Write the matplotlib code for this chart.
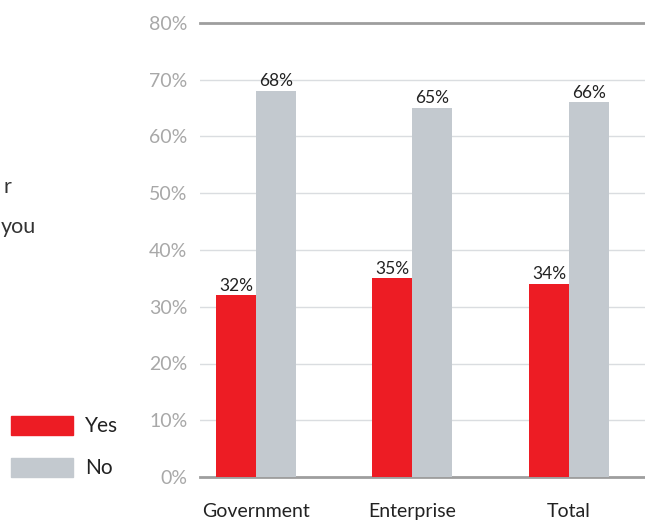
import matplotlib
matplotlib.use("Agg")
import matplotlib.pyplot as plt
import numpy as np
from matplotlib.patches import Rectangle

categories = ["Government", "Enterprise", "Total"]
yes_vals = [32, 35, 34]
no_vals = [68, 65, 66]
yticks = [0, 10, 20, 30, 40, 50, 60, 70, 80]
ytick_labels = ["0%", "10%", "20%", "30%", "40%", "50%", "60%", "70%", "80%"]

RED = "#ED1C24"
GRAY = "#C3C9CF"
W, H = 645, 523
plt.rcParams['font.family'] = ['Lato', 'DejaVu Sans']

fig = plt.figure(figsize=(W / 100, H / 100), dpi=100)
ax_left, ax_right, ax_bottom, ax_top = 200, 645, 477, 23
ax = fig.add_axes([ax_left / W, 1 - ax_bottom / H, (ax_right - ax_left) / W, (ax_bottom - ax_top) / H])

x = np.arange(len(categories))
bw = 0.2556
ax.bar(x - bw / 2, yes_vals, bw, color=RED, zorder=3)
ax.bar(x + bw / 2, no_vals, bw, color=GRAY, zorder=3)

for xi, v in zip(x - bw / 2, yes_vals):
    ax.text(xi, v + 0.3, f"{v}%", ha="center", va="bottom", fontsize=12.5, color="#222222", zorder=4)
for xi, v in zip(x + bw / 2, no_vals):
    ax.text(xi, v + 0.3, f"{v}%", ha="center", va="bottom", fontsize=12.5, color="#222222", zorder=4)

ax.set_xlim(-0.358, 2.486)
ax.set_ylim(0, 80)
for t in yticks:
    if t in (0, 80):
        ax.axhline(t, color="#9E9E9E", lw=2, zorder=2, clip_on=False)
    else:
        ax.axhline(t, color="#DADDE0", lw=1, zorder=1)
ax.set_yticks(yticks)
ax.set_yticklabels(ytick_labels, fontsize=14, color="#A8A8A8")
ax.tick_params(axis="y", length=0, pad=9)
ax.set_xticks(x)
ax.set_xticklabels(categories, fontsize=14, color="#222222")
ax.tick_params(axis="x", length=0, pad=19)
for s in ax.spines.values():
    s.set_visible(False)

# text fragments at left edge
fig.text(11 / W, 1 - 187 / H, "r", ha="right", va="center", fontsize=15.5, color="#333333")
fig.text(1 / W, 1 - 227 / H, "you", ha="left", va="center", fontsize=15.5, color="#333333")

# legend
fig.patches.append(Rectangle((11 / W, 1 - 435 / H), 62 / W, 19 / H, color=RED, transform=fig.transFigure, figure=fig))
fig.patches.append(Rectangle((11 / W, 1 - 477 / H), 62 / W, 19 / H, color=GRAY, transform=fig.transFigure, figure=fig))
fig.text(85 / W, 1 - 426 / H, "Yes", ha="left", va="center", fontsize=15, color="#222222")
fig.text(85 / W, 1 - 468 / H, "No", ha="left", va="center", fontsize=15, color="#222222")

fig.savefig("out.png", dpi=100)
